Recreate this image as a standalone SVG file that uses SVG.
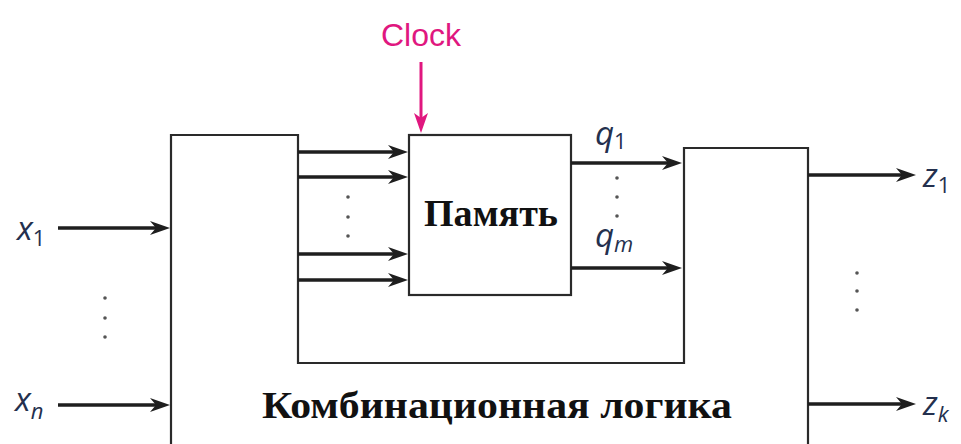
<svg xmlns="http://www.w3.org/2000/svg" width="961" height="444" viewBox="0 0 961 444">
<defs>
<style>
.box{fill:none;stroke:#2a2a2a;stroke-width:2.2}
.wire{fill:none;stroke:#1e1e1e;stroke-width:3.6}
.clk{fill:none;stroke:#e0177f;stroke-width:3}
.dot{fill:#555}
.lbl{font-family:"Open Sans","Liberation Sans",sans-serif;fill:#24304e}
.big{font-family:"Liberation Serif","Times New Roman",serif;font-weight:bold;fill:#111}
</style>
<marker id="ah" markerUnits="userSpaceOnUse" viewBox="0 0 20 14" markerWidth="20" markerHeight="14" refX="8" refY="7" orient="auto">
<path d="M0,0 L20,7 L0,14 L6,7 z" fill="#1e1e1e"/>
</marker>
<marker id="ahc" markerUnits="userSpaceOnUse" viewBox="0 0 20 14" markerWidth="20" markerHeight="14" refX="8" refY="7" orient="auto">
<path d="M0,0 L20,7 L0,14 L5,7 z" fill="#e0177f"/>
</marker>
</defs>
<rect width="961" height="444" fill="#fff"/>

<g id="comb-logic">
<path class="box" d="M171,446 L171,135 L298,135 L298,363 L684,363 L684,148 L808,148 L808,446"/>
<text class="big" x="497" y="418" font-size="38" text-anchor="middle" textLength="470" lengthAdjust="spacingAndGlyphs">Комбинационная логика</text>
</g>

<g id="memory">
<rect class="box" x="409" y="135" width="162" height="160"/>
<text class="big" x="491" y="226" font-size="37" text-anchor="middle" textLength="134" lengthAdjust="spacingAndGlyphs">Память</text>
</g>

<g id="clock">
<text x="421" y="46" font-family="Liberation Sans, Arial, sans-serif" font-size="32" fill="#e0177f" text-anchor="middle">Clock</text>
</g>

<g id="labels">
<text class="lbl" x="17" y="240" font-size="33" font-style="italic">x<tspan font-size="22" font-style="normal" dy="6">1</tspan></text>
<text class="lbl" x="15" y="411" font-size="33" font-style="italic">x<tspan font-size="22" dy="8">n</tspan></text>
<text class="lbl" x="595" y="145" font-size="33" font-style="italic">q<tspan font-size="22" font-style="normal" dy="4">1</tspan></text>
<text class="lbl" x="595" y="247" font-size="33" font-style="italic">q<tspan font-size="22" dy="5">m</tspan></text>
<text class="lbl" x="923" y="187" font-size="33" font-style="italic">z<tspan font-size="22" font-style="normal" dy="6">1</tspan></text>
<text class="lbl" x="923" y="415" font-size="33" font-style="italic">z<tspan font-size="22" dy="7">k</tspan></text>
</g>

<g id="connectors">
<line class="clk" x1="421" y1="62" x2="421" y2="121" marker-end="url(#ahc)"/>
<line class="wire" x1="58" y1="228" x2="158" y2="228" marker-end="url(#ah)"/>
<line class="wire" x1="58" y1="405" x2="158" y2="405" marker-end="url(#ah)"/>
<line class="wire" x1="298" y1="152" x2="396" y2="152" marker-end="url(#ah)"/>
<line class="wire" x1="298" y1="177" x2="396" y2="177" marker-end="url(#ah)"/>
<line class="wire" x1="298" y1="254" x2="396" y2="254" marker-end="url(#ah)"/>
<line class="wire" x1="298" y1="280" x2="396" y2="280" marker-end="url(#ah)"/>
<line class="wire" x1="571" y1="163" x2="670" y2="163" marker-end="url(#ah)"/>
<line class="wire" x1="571" y1="268" x2="670" y2="268" marker-end="url(#ah)"/>
<line class="wire" x1="808" y1="175" x2="904" y2="175" marker-end="url(#ah)"/>
<line class="wire" x1="808" y1="404" x2="904" y2="404" marker-end="url(#ah)"/>
</g>

<g id="ellipses">
<circle class="dot" cx="105" cy="298" r="1.8"/>
<circle class="dot" cx="105" cy="318" r="1.8"/>
<circle class="dot" cx="105" cy="337" r="1.8"/>
<circle class="dot" cx="348" cy="197" r="1.8"/>
<circle class="dot" cx="348" cy="217" r="1.8"/>
<circle class="dot" cx="348" cy="236" r="1.8"/>
<circle class="dot" cx="617" cy="178" r="1.8"/>
<circle class="dot" cx="617" cy="197" r="1.8"/>
<circle class="dot" cx="617" cy="216" r="1.8"/>
<circle class="dot" cx="857" cy="273" r="1.8"/>
<circle class="dot" cx="857" cy="291" r="1.8"/>
<circle class="dot" cx="857" cy="310" r="1.8"/>
</g>
</svg>
